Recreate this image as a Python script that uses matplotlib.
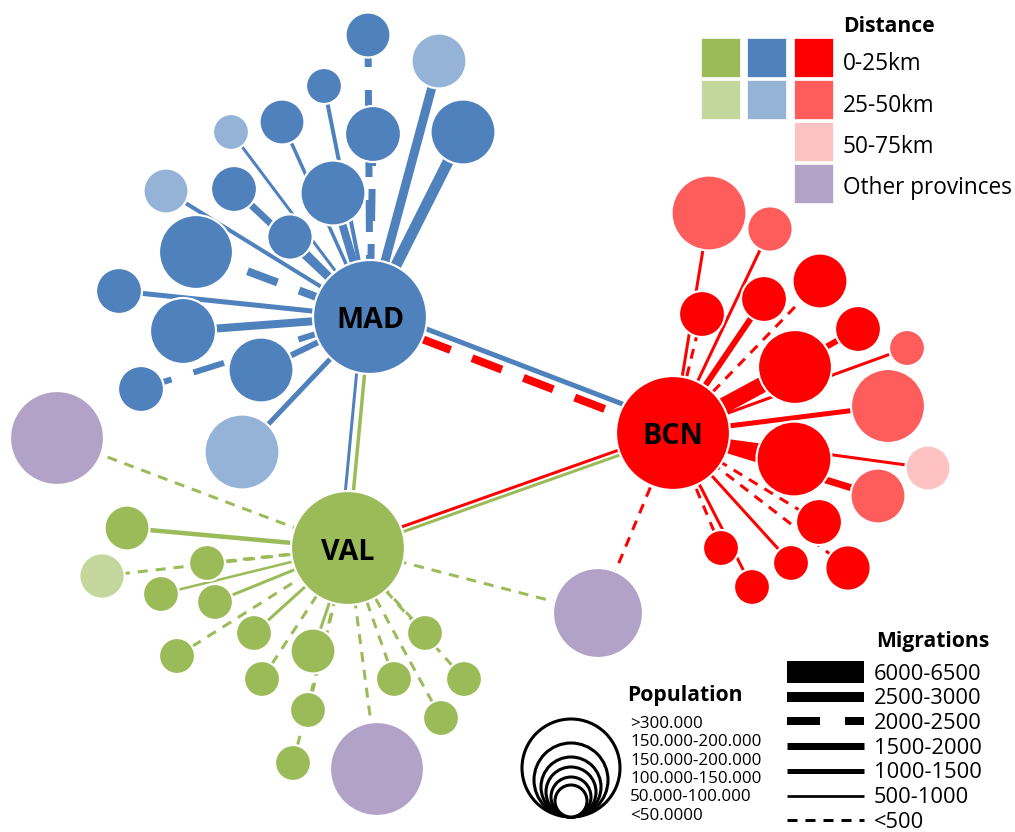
import numpy as np
import matplotlib.pyplot as plt
from matplotlib.patches import Circle, Rectangle

plt.rcParams['font.family'] = ['Open Sans', 'DejaVu Sans']
plt.rcParams['lines.scale_dashes'] = False

PX = 72 / 100.0  # pixels -> points

colours = {
    "green": "#9BBB59", "lgreen": "#C3D69B",
    "blue": "#4F81BD", "lblue": "#95B3D7",
    "red": "#FF0000", "salmon": "#FF5C5C", "pink": "#FFC2C2",
    "purple": "#B3A2C7",
}

# hubs
hub_names = ["MAD", "BCN", "VAL"]
hub_x = [370, 673, 348]
hub_y = [317, 433, 548]
hub_r = 57

# satellites of Madrid
mad_x = [368, 439, 463, 324, 373, 282, 333, 231, 290, 234, 166, 196, 119, 183, 261, 141, 242]
mad_y = [35, 61, 132, 86, 134, 122, 193, 132, 237, 189, 191, 252, 291, 331, 370, 389, 452]
mad_r = [22.5, 27.5, 32.5, 18, 28, 22.5, 32.5, 18, 22.7, 23, 22.5, 37, 23, 33, 32.5, 23, 37.5]
mad_c = ["blue", "lblue", "blue", "blue", "blue", "blue", "blue", "lblue", "blue", "blue",
         "lblue", "blue", "blue", "blue", "blue", "blue", "lblue"]
mad_w = [7, 9, 11, 4, 7, 3.5, 8, 3, 7, 7, 4, 8, 5, 8, 6, 6, 5]
mad_s = ["D", "s", "s", "s", "D", "s", "s", "s", "s", "s", "s", "D", "s", "s", "s", "D", "s"]

# satellites of Barcelona
bcn_x = [709, 770, 702, 764, 820, 795, 858, 907, 888, 794, 928, 878, 819, 848, 791, 721, 752]
bcn_y = [213, 229, 314, 299, 281, 367, 329, 348, 406, 459, 468, 496, 522, 568, 563, 548, 587]
bcn_r = [37.5, 22.7, 23, 23, 27.5, 37, 23, 18, 37, 37.5, 22.5, 27.5, 23, 22.7, 18, 18, 18]
bcn_c = ["salmon", "salmon", "red", "red", "red", "red", "red", "salmon", "salmon", "red",
         "pink", "salmon", "red", "red", "red", "red", "red"]
bcn_w = [3, 3, 3, 6, 3, 16, 6, 3, 5, 10, 3, 7, 3, 3, 3, 3, 3]
bcn_s = ["s", "s", "d", "s", "d", "s", "s", "s", "s", "s", "s", "s", "d", "d", "s", "d", "s"]

# satellites of Valencia
val_x = [127, 102, 207, 161, 215, 177, 254, 262, 313, 308, 293, 394, 441, 425, 464]
val_y = [528, 576, 563, 594, 602, 656, 633, 679, 651, 710, 763, 679, 718, 633, 679]
val_r = [22.5, 22.7, 18, 18, 18, 18, 18, 18, 22.5, 18, 18, 18, 18, 18, 18]
val_c = ["green", "lgreen"] + ["green"] * 13
val_w = [4.5, 3, 3, 2.5, 3, 3, 3, 3, 3, 3, 3, 3, 3, 3, 3]
val_s = ["s", "d", "d", "s", "s", "d", "s", "d", "s", "d", "d", "d", "d", "d", "d"]

# other provinces
prov_x = [57, 598, 377]
prov_y = [438, 613, 769]
prov_r = [47, 45, 47]
prov_links = [(2, 0, "green"), (2, 1, "green"), (1, 1, "red"), (2, 2, "green")]

# links between hubs: (from, to, colour, width, style, sideways shift)
hub_links = [
    (0, 1, "blue", 5, "s", -9), (0, 1, "red", 8, "D", 2),
    (0, 2, "blue", 3, "s", -8), (0, 2, "green", 3.5, "s", 0),
    (2, 1, "red", 3, "s", -2), (2, 1, "green", 3, "s", 3),
]

# legend data
dist_labels = ["0-25km", "25-50km", "50-75km", "Other provinces"]
dist_grid = [["green", "blue", "red"], ["lgreen", "lblue", "salmon"],
             [None, None, "pink"], [None, None, "purple"]]
pop_labels = [">300.000", "150.000-200.000", "150.000-200.000",
              "100.000-150.000", "50.000-100.000", "<50.0000"]
pop_radii = [49, 37, 30, 25, 20, 16]
mig_labels = ["6000-6500", "2500-3000", "2000-2500", "1500-2000", "1000-1500", "500-1000", "<500"]
mig_widths = [22, 10, 8, 7, 5, 2.7, 3]
mig_styles = ["s", "s", "D", "s", "s", "s", "d"]

dash_map = {"d": (10 * PX, 8 * PX), "D": (32 * PX, 23 * PX)}


def draw_line(ax, xs, ys, col, w, style, z=1):
    ln, = ax.plot(xs, ys, color=col, lw=w * PX, solid_capstyle="butt",
                  dash_capstyle="butt", zorder=z)
    if style in dash_map:
        ln.set_dashes(dash_map[style])


def node(ax, x, y, r, col, z=2):
    ax.add_patch(Circle((x, y), r, facecolor=col, edgecolor="white", lw=1.6, zorder=z))


fig = plt.figure(figsize=(10.15, 8.32), dpi=100)
ax = fig.add_axes([0, 0, 1, 1])
ax.set_xlim(0, 1015)
ax.set_ylim(832, 0)
ax.axis("off")
renderer = fig.canvas.get_renderer()


def fit_size(text, width_px, weight="normal", base=15.0):
    # font size that makes `text` about width_px pixels wide
    t = ax.text(0, 0, text, fontsize=base, fontweight=weight)
    w = t.get_window_extent(renderer).width
    t.remove()
    return base * width_px / w


# hub to hub links, shifted sideways (positive = right / down)
for a, b, col, w, st, off in hub_links:
    dx, dy = hub_x[b] - hub_x[a], hub_y[b] - hub_y[a]
    L = np.hypot(dx, dy)
    nx, ny = -dy / L, dx / L
    if abs(dx) > abs(dy):
        if ny < 0:
            nx, ny = -nx, -ny
    elif nx < 0:
        nx, ny = -nx, -ny
    draw_line(ax, [hub_x[a] + nx * off, hub_x[b] + nx * off],
              [hub_y[a] + ny * off, hub_y[b] + ny * off], colours[col], w, st)

# satellite links + nodes
for h, (xs, ys, rs, cs, ws, ss) in enumerate([
        (mad_x, mad_y, mad_r, mad_c, mad_w, mad_s),
        (bcn_x, bcn_y, bcn_r, bcn_c, bcn_w, bcn_s),
        (val_x, val_y, val_r, val_c, val_w, val_s)]):
    line_col = colours[["blue", "red", "green"][h]]
    for x, y, w, s in zip(xs, ys, ws, ss):
        draw_line(ax, [x, hub_x[h]], [y, hub_y[h]], line_col, w, s)
    for x, y, r, c in zip(xs, ys, rs, cs):
        node(ax, x, y, r, colours[c])

for h, p, col in prov_links:
    draw_line(ax, [prov_x[p], hub_x[h]], [prov_y[p], hub_y[h]], colours[col], 3, "d")
for x, y, r in zip(prov_x, prov_y, prov_r):
    node(ax, x, y, r, colours["purple"])

hub_cols = ["blue", "red", "green"]
hub_fs = fit_size("MAD", 68, "bold")
for i, name in enumerate(hub_names):
    node(ax, hub_x[i], hub_y[i], hub_r, colours[hub_cols[i]], z=3)
    ax.text(hub_x[i], hub_y[i] + 4, name, ha="center", va="center",
            fontsize=hub_fs, fontweight="bold", color="black", zorder=4)

title_fs = fit_size("Migrations", 114, "bold")

# distance legend
ax.text(843, 27, "Distance", fontsize=title_fs, fontweight="bold", va="center", ha="left")
dist_fs = fit_size("Other provinces", 169)
for row, cols in enumerate(dist_grid):
    for ci, c in enumerate(cols):
        if c is None:
            continue
        ax.add_patch(Rectangle((701 + ci * 46.5, 38 + row * 42), 39, 39,
                               facecolor=colours[c], edgecolor="white", lw=0.5))
    ax.text(843, 64 + row * 41.5, dist_labels[row], fontsize=dist_fs, va="center", ha="left")

# population legend
ax.text(627, 695, "Population", fontsize=title_fs, fontweight="bold", va="center", ha="left")
for r in pop_radii:
    ax.add_patch(Circle((571, 817 - r), r, facecolor="white", edgecolor="black", lw=2.2))
pop_fs = fit_size("150.000-200.000", 131)
for i, lab in enumerate(pop_labels):
    ax.text(630, 724 + i * 18.3, lab, fontsize=pop_fs, va="center", ha="left")

# migrations legend
ax.text(876, 642, "Migrations", fontsize=title_fs, fontweight="bold", va="center", ha="left")
mig_fs = fit_size("6000-6500", 107)
for i, (lab, w, st) in enumerate(zip(mig_labels, mig_widths, mig_styles)):
    yy = 672 + i * 24.7
    if st == "D":
        draw_line(ax, [787, 864], [yy, yy], "black", w, "s")
        ax.add_patch(Rectangle((820, yy - 6), 25, 12, facecolor="white", edgecolor="none", zorder=2))
    else:
        draw_line(ax, [787, 864], [yy, yy], "black", w, st)
    ax.text(874, yy + 2, lab, fontsize=mig_fs, va="center", ha="left")

fig.savefig("out.png", dpi=100)
